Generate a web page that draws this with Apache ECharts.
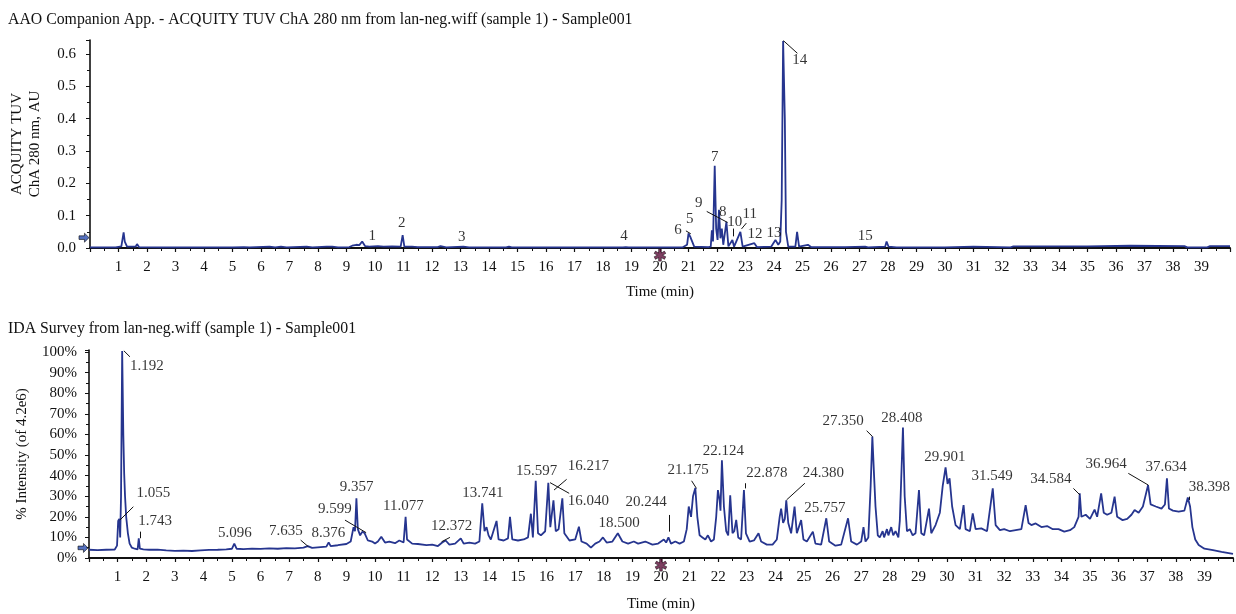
<!DOCTYPE html>
<html><head><meta charset="utf-8">
<script src="https://cdn.jsdelivr.net/npm/echarts@6/dist/echarts.min.js"></script>
<style>html,body{margin:0;padding:0;background:#fff}#c{width:1236px;height:614px}</style>
</head><body><div id="c"></div>
<script>
// ---------- DATA ----------
const titleTop = 'AAO Companion App. - ACQUITY TUV ChA 280 nm from lan-neg.wiff (sample 1) - Sample001';
const titleBottom = 'IDA Survey from lan-neg.wiff (sample 1) - Sample001';
const xName = 'Time (min)';
const yNameTop = 'ACQUITY TUV\nChA 280 nm, AU';
const yNameBottom = '% Intensity (of 4.2e6)';

// UV trace [time (min), absorbance (AU)]
const tuvTrace = [[0,0.002],[0.9,0.002],[1.1,0.005],[1.18,0.048],[1.22,0.02],[1.3,0.004],[1.6,0.004],[1.65,0.012],[1.72,0.003],
[2.5,0.002],[4,0.002],[5,0.002],[5.4,0.003],[5.6,0.002],[6.3,0.004],[6.5,0.002],[6.7,0.004],[6.9,0.002],[7.6,0.004],[7.8,0.002],
[8.3,0.004],[8.5,0.004],[8.7,0.002],[9.1,0.003],[9.2,0.007],[9.35,0.01],[9.45,0.009],[9.55,0.02],[9.65,0.006],[9.8,0.004],[10.1,0.006],
[10.3,0.004],[10.6,0.005],[10.9,0.004],[10.97,0.04],[11.03,0.004],[11.3,0.004],[11.5,0.003],[12.2,0.003],[12.3,0.006],[12.5,0.002],
[13.1,0.004],[13.3,0.002],[14.6,0.002],[14.7,0.004],[14.8,0.002],[18.7,0.002],[18.8,0.003],[18.9,0.002],[20.8,0.002],[20.95,0.01],
[21.0,0.045],[21.06,0.035],[21.12,0.04],[21.2,0.004],[21.7,0.003],[21.78,0.004],[21.82,0.055],[21.86,0.02],[21.92,0.254],[21.97,0.06],
[22.02,0.025],[22.07,0.118],[22.12,0.03],[22.17,0.06],[22.22,0.01],[22.33,0.081],[22.4,0.005],[22.54,0.025],[22.6,0.004],[22.82,0.05],
[22.9,0.004],[23.31,0.015],[23.4,0.003],[23.9,0.004],[24.05,0.025],[24.15,0.01],[24.22,0.02],[24.27,0.148],[24.32,0.64],[24.38,0.4],
[24.42,0.05],[24.5,0.004],[24.75,0.004],[24.81,0.05],[24.88,0.004],[25.19,0.01],[25.3,0.003],[26.5,0.003],[27.2,0.004],[27.3,0.002],
[27.9,0.004],[27.95,0.02],[28.02,0.004],[28.3,0.002],[30,0.002],[31,0.004],[32.3,0.002],[32.4,0.005],[35,0.005],[36.5,0.007],
[38.4,0.006],[38.5,0.002],[39.2,0.002],[39.3,0.006],[40,0.006]];

// MS survey trace [time (min), % intensity]
const msTrace = [[0,4],[0.3,3.8],[0.6,4],[0.9,4.1],[0.98,6],[1.02,18],[1.06,19],[1.09,10],[1.12,30],[1.16,100.5],[1.2,60],[1.23,41],
[1.26,30],[1.3,20],[1.36,12],[1.42,7],[1.5,5],[1.6,4.5],[1.7,4.2],[1.74,9.5],[1.78,4.5],[1.9,4.2],[2.1,4],[2.4,4.1],[2.7,3.7],[3,3.5],
[3.3,3.6],[3.6,3.4],[3.9,3.7],[4.2,3.9],[4.5,4],[4.8,4.2],[5,4.5],[5.08,7],[5.16,4.5],[5.4,4.3],[5.7,4.6],[6,4.4],[6.3,4.7],[6.6,4.5],
[6.9,4.8],[7.2,4.7],[7.5,5],[7.65,5.8],[7.8,4.9],[8.1,5.3],[8.3,5.5],[8.38,7.6],[8.45,5.8],[8.7,6.2],[9,6.8],[9.15,8],[9.25,15],[9.3,13],
[9.35,29],[9.4,14],[9.48,11],[9.56,12.8],[9.64,12],[9.75,8.5],[9.9,8],[10,7],[10.1,8],[10.22,10.3],[10.35,7.5],[10.5,8],[10.7,7.2],
[10.85,8.5],[11,7.5],[11.07,20],[11.12,9],[11.3,7],[11.5,6.8],[11.8,6.3],[12,6.5],[12.2,5.8],[12.35,7.5],[12.47,8.5],[12.6,6.5],[12.8,7],
[13,9.5],[13.1,7],[13.3,7.5],[13.5,7],[13.65,8],[13.75,26.5],[13.83,13],[13.9,15],[13.97,11],[14.05,9],[14.25,18],[14.32,9],[14.5,8.5],
[14.65,9.5],[14.72,20],[14.8,9],[15,8.5],[15.2,9],[15.35,10],[15.45,21.5],[15.52,10],[15.62,37.5],[15.7,12],[15.8,11],[15.95,13],
[16.06,36.5],[16.13,15],[16.24,28],[16.32,13],[16.42,14],[16.55,29],[16.62,12],[16.8,8.5],[17,9],[17.13,15.2],[17.22,8],[17.4,7],
[17.55,5],[17.7,7],[17.85,8],[17.97,10],[18.1,7.5],[18.3,8],[18.49,12],[18.65,8],[18.85,7],[19.05,8],[19.2,7],[19.45,8],[19.7,6.5],
[19.9,7],[20.1,9],[20.18,7.5],[20.26,10],[20.35,7],[20.5,8],[20.65,7],[20.8,8],[20.9,14],[20.97,25],[21.05,20],[21.12,30],[21.2,34],
[21.27,20],[21.35,11],[21.45,10],[21.55,9],[21.64,11],[21.75,8],[21.85,9],[21.93,20],[21.99,33],[22.05,28],[22.08,23],[22.13,47.5],
[22.2,25],[22.28,13],[22.35,11],[22.42,30.5],[22.5,12],[22.56,13],[22.63,18.5],[22.7,10],[22.8,9],[22.9,33],[22.97,12],[23.1,8],
[23.25,8.5],[23.41,12],[23.5,8],[23.7,6.5],[23.9,6.5],[24.05,9],[24.15,20],[24.2,24],[24.27,17],[24.33,19],[24.38,28],[24.45,17],
[24.55,12],[24.67,25],[24.75,12],[24.9,18.4],[24.98,9],[25.1,8],[25.31,12.8],[25.4,7],[25.6,6.5],[25.78,19.3],[25.88,8],[26.1,6],
[26.3,6.5],[26.54,19.3],[26.65,8],[26.85,6.5],[27,8],[27.08,15],[27.15,8],[27.25,10],[27.33,35],[27.39,59],[27.45,40],[27.5,25],
[27.58,11],[27.65,10],[27.75,13],[27.8,10],[27.9,14],[27.95,11],[28.05,15],[28.12,11],[28.2,13],[28.3,10],[28.35,18],[28.46,63.4],
[28.52,30],[28.6,13],[28.7,14],[28.8,11],[28.9,12],[29.02,33],[29.1,12],[29.2,11],[29.37,24],[29.45,12],[29.6,16],[29.75,22],[29.85,35],
[29.95,44],[30.02,36],[30.09,38.7],[30.18,25],[30.3,16],[30.45,14],[30.58,25.7],[30.65,14],[30.8,13],[30.9,21.7],[31,14],[31.2,14.4],
[31.4,13],[31.6,33.8],[31.7,16],[31.85,13.5],[32,14],[32.2,13],[32.4,13.5],[32.6,14],[32.75,25.7],[32.85,17],[32.95,16],[33.1,16.8],
[33.3,15],[33.5,15.5],[33.7,14],[33.9,14],[34.1,12.8],[34.3,13.5],[34.45,15],[34.6,20],[34.64,31.4],[34.7,20],[34.85,21],[35,19],
[35.16,23.5],[35.25,20],[35.39,31.4],[35.48,22],[35.6,21],[35.75,22],[35.86,29.8],[35.95,20],[36.14,18.4],[36.3,19],[36.45,21],
[36.56,23.3],[36.7,22],[36.85,25],[37.03,35.4],[37.12,26],[37.3,25],[37.5,24],[37.62,26],[37.69,38.7],[37.76,24],[37.9,23],[38.1,22.5],
[38.3,23],[38.42,29.4],[38.5,25],[38.58,15],[38.68,9],[38.8,6.3],[39,4.5],[39.3,3.8],[39.6,3],[40,2]];

// peak annotations: [time, value, text]
const tuvPeakLabels = [[9.9,0.038,'1'],[10.94,0.078,'2'],[13.04,0.035,'3'],[18.74,0.038,'4'],[21.04,0.09,'5'],[20.63,0.056,'6'],
[21.92,0.28,'7'],[22.2,0.112,'8'],[21.36,0.14,'9'],[22.62,0.081,'10'],[23.15,0.106,'11'],[23.33,0.044,'12'],[24.0,0.047,'13'],
[24.9,0.581,'14'],[27.2,0.038,'15']];
const tuvLeaders = [[24.33,0.641,24.82,0.602],[21.64,0.113,22.37,0.079],[20.91,0.053,21.08,0.044],[22.58,0.06,22.58,0.036],[22.86,0.059,23.03,0.077]];

const msPeakLabels = [[2.02,93.2,'1.192'],[2.25,31.4,'1.055'],[2.31,18,'1.743'],[5.1,12,'5.096'],[6.88,13.3,'7.635'],[8.37,12.3,'8.376'],
[8.6,23.6,'9.599'],[9.36,34.6,'9.357'],[10.99,25.2,'11.077'],[12.68,15.5,'12.372'],[13.77,31.4,'13.741'],[15.65,42.4,'15.597'],
[17.46,44.7,'16.217'],[17.46,27.8,'16.040'],[18.54,16.8,'18.500'],[19.48,27.3,'20.244'],[20.95,42.7,'21.175'],[22.18,52.1,'22.124'],
[23.7,41.1,'22.878'],[25.68,41.4,'24.380'],[25.73,24.1,'25.757'],[26.37,66.7,'27.350'],[28.42,67.8,'28.408'],[29.93,49.2,'29.901'],
[31.58,39.8,'31.549'],[33.63,38.3,'34.584'],[35.56,45.5,'36.964'],[37.66,44.3,'37.634'],[39.17,34.6,'38.398']];
const msLeaders = [[1.22,100.6,1.43,97.7],[1.08,18.4,1.55,24.9],[1.78,12.8,1.78,9.6],[7.4,8.7,7.67,5.5],[8.95,18.4,9.69,12.3],
[12.33,7.9,12.62,10],[16.12,36.6,16.79,31.4],[16.26,33,16.7,38.2],[20.28,20.9,20.28,12.8],[21.07,37.5,21.24,33.8],
[22.94,36.3,22.94,33.8],[24.39,28.2,25.03,36.3],[27.19,61.8,27.4,58.9],[34.42,33.8,34.65,30.6],[36.34,41.1,37.04,35.4],[38.47,29.8,38.47,28.2]];

// markers: injection marker at t=20 and baseline arrow
const starMarkTop = [20, -0.027];
const starMarkBottom = [20, -4.4];
const arrowMarkTop = [0, 0.032];
const arrowMarkBottom = [0, 4.9];

// ---------- CHART ----------
const FONT = 'Liberation Serif';
const TXT = '#111111';
const LINE = '#26358f';
const chart = echarts.init(document.getElementById('c'), null, {renderer: 'canvas'});

function xAx(gi, gap) {
  return {
    type: 'value', gridIndex: gi, min: 0, max: 40, interval: 1,
    name: xName, nameLocation: 'middle', nameGap: gap,
    nameTextStyle: {fontFamily: FONT, fontSize: 15, color: TXT},
    axisLine: {show: true, onZero: false, lineStyle: {color: '#111', width: 2}},
    axisTick: {show: true, length: 4, lineStyle: {color: '#111', width: 1.2}},
    minorTick: {show: true, splitNumber: 2, length: 3, lineStyle: {color: '#111', width: 1}},
    axisLabel: {fontFamily: FONT, fontSize: 15, color: TXT, margin: 12,
      formatter: v => (v === 0 || v === 40) ? '' : String(v)},
    splitLine: {show: false}
  };
}
function leaderLines(arr) {
  return arr.map(a => [{coord: [a[0], a[1]]}, {coord: [a[2], a[3]]}]);
}
function labelSeries(arr, xi, yi) {
  return {
    type: 'scatter', xAxisIndex: xi, yAxisIndex: yi, symbolSize: 1, silent: true,
    itemStyle: {color: 'rgba(0,0,0,0)'},
    data: arr.map(a => ({value: [a[0], a[1]], name: a[2]})),
    label: {show: true, position: 'inside', formatter: p => p.name,
      fontFamily: FONT, fontSize: 15, color: '#000'},
    z: 5
  };
}
const arrowPath = 'path://M0,3 L6,3 L6,0 L11,5 L6,10 L6,7 L0,7 Z';

const option = {
  backgroundColor: '#ffffff',
  animation: false,
  title: [
    {text: titleTop, left: 3, top: 7, textStyle: {fontFamily: FONT, fontSize: 15.8, fontWeight: 'normal', color: TXT}},
    {text: titleBottom, left: 3, top: 316, textStyle: {fontFamily: FONT, fontSize: 15.8, fontWeight: 'normal', color: TXT}}
  ],
  grid: [
    {left: 86, right: 6, top: 40, bottom: 366},
    {left: 89, right: 3, top: 350, bottom: 56}
  ],
  xAxis: [xAx(0, 37), xAx(1, 39)],
  yAxis: [
    {type: 'value', gridIndex: 0, min: 0, max: 0.643, interval: 0.1,
      name: yNameTop, nameLocation: 'middle', nameGap: 46,
      nameTextStyle: {fontFamily: FONT, fontSize: 15, color: TXT, lineHeight: 18},
      axisLine: {show: true, lineStyle: {color: '#111', width: 1.6}},
      axisTick: {show: true, length: 4, lineStyle: {color: '#111'}},
      minorTick: {show: true, splitNumber: 2, length: 3, lineStyle: {color: '#111'}},
      axisLabel: {fontFamily: FONT, fontSize: 15, color: TXT, margin: 14, showMaxLabel: false, formatter: v => v.toFixed(1)},
      splitLine: {show: false}},
    {type: 'value', gridIndex: 1, min: 0, max: 101, interval: 10,
      name: yNameBottom, nameLocation: 'middle', nameGap: 59,
      nameTextStyle: {fontFamily: FONT, fontSize: 15, color: TXT},
      axisLine: {show: true, lineStyle: {color: '#111', width: 1.6}},
      axisTick: {show: true, length: 4, lineStyle: {color: '#111'}},
      minorTick: {show: true, splitNumber: 2, length: 3, lineStyle: {color: '#111'}},
      axisLabel: {fontFamily: FONT, fontSize: 15, color: TXT, margin: 12, showMaxLabel: false, formatter: v => v + '%'},
      splitLine: {show: false}}
  ],
  series: [
    {type: 'line', xAxisIndex: 0, yAxisIndex: 0, data: tuvTrace, showSymbol: false, symbol: 'none',
      lineStyle: {color: LINE, width: 1.8}, z: 3,
      markLine: {silent: true, symbol: 'none', animation: false, label: {show: false},
        lineStyle: {color: '#111', width: 1, type: 'solid'}, data: leaderLines(tuvLeaders)}},
    {type: 'line', xAxisIndex: 1, yAxisIndex: 1, data: msTrace, showSymbol: false, symbol: 'none',
      lineStyle: {color: LINE, width: 1.8}, z: 3,
      markLine: {silent: true, symbol: 'none', animation: false, label: {show: false},
        lineStyle: {color: '#111', width: 1, type: 'solid'}, data: leaderLines(msLeaders)}},
    labelSeries(tuvPeakLabels, 0, 0),
    labelSeries(msPeakLabels, 1, 1),
    {type: 'scatter', xAxisIndex: 0, yAxisIndex: 0, clip: false, silent: true, data: [starMarkTop],
      symbolSize: 0, label: {show: true, position: 'inside', formatter: '✱', fontFamily: 'DejaVu Sans', fontSize: 16, color: '#5c0f3a',
      textBorderColor: '#111', textBorderWidth: 0.8}, z: 6},
    {type: 'scatter', xAxisIndex: 1, yAxisIndex: 1, clip: false, silent: true, data: [starMarkBottom],
      symbolSize: 0, label: {show: true, position: 'inside', formatter: '✱', fontFamily: 'DejaVu Sans', fontSize: 16, color: '#5c0f3a',
      textBorderColor: '#111', textBorderWidth: 0.8}, z: 6},
    {type: 'scatter', xAxisIndex: 0, yAxisIndex: 0, clip: false, silent: true, data: [arrowMarkTop],
      symbol: arrowPath, symbolSize: [10, 9], symbolOffset: [-6, 0],
      itemStyle: {color: '#2a4db0', borderColor: '#111', borderWidth: 0.8}, z: 6},
    {type: 'scatter', xAxisIndex: 1, yAxisIndex: 1, clip: false, silent: true, data: [arrowMarkBottom],
      symbol: arrowPath, symbolSize: [10, 9], symbolOffset: [-6, 0],
      itemStyle: {color: '#2a4db0', borderColor: '#111', borderWidth: 0.8}, z: 6}
  ]
};
chart.setOption(option);
</script>
</body></html>
